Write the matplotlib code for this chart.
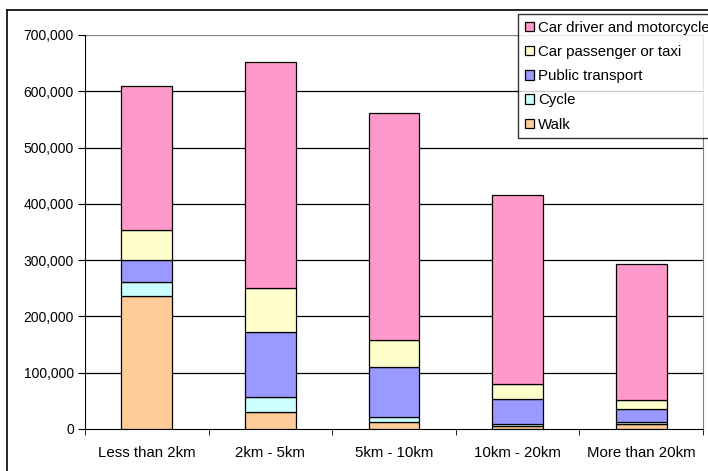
import matplotlib
matplotlib.use("Agg")
import matplotlib.pyplot as plt
from matplotlib.lines import Line2D
import numpy as np

plt.rcParams['font.family'] = ['Liberation Sans', 'DejaVu Sans']

categories = ['Less than 2km', '2km - 5km', '5km - 10km', '10km - 20km', 'More than 20km']
walk = [236000, 30000, 13000, 6000, 9000]
cycle = [25000, 26000, 8000, 3000, 3000]
public_transport = [39000, 116000, 89000, 44000, 23000]
car_passenger = [53000, 78000, 48000, 27000, 17000]
car_driver = [256000, 402000, 404000, 336000, 241000]

series = [
    ('Walk', walk, '#FFCC99'),
    ('Cycle', cycle, '#CCFFFF'),
    ('Public transport', public_transport, '#9999FF'),
    ('Car passenger or taxi', car_passenger, '#FFFFCC'),
    ('Car driver and motorcycle', car_driver, '#FF99CC'),
]

fig = plt.figure(figsize=(7.08, 4.71), dpi=100)
ax = fig.add_axes([0.120, 0.0892, 0.873, 0.8365])

x = np.arange(len(categories))
bottom = np.zeros(len(categories))
handles = []
for name, vals, col in series:
    b = ax.bar(x, vals, 0.41, bottom=bottom, color=col, edgecolor='black', linewidth=0.9, label=name, zorder=3)
    bottom += np.array(vals)
    handles.append(b)

ax.set_xlim(-0.5, len(categories) - 0.5)
ax.set_ylim(0, 700000)
yt = list(range(0, 700001, 100000))
ax.set_yticks(yt)
ax.set_yticklabels(['{:,}'.format(v) for v in yt], fontsize=10)
# gridlines (top one drawn grey like the plot-area border)
for v in yt[1:]:
    ax.axhline(v, color='black' if v < 700000 else '#808080', linewidth=0.9, zorder=1)
ax.set_xticks(x)
ax.set_xticklabels(categories, fontsize=10.8)
ax.tick_params(axis='x', length=0, pad=12)
ax.set_xticks(np.arange(-0.5, len(categories)), minor=True)
ax.tick_params(axis='x', which='minor', length=4, color='black')
ax.tick_params(axis='y', length=5, color='black', pad=3)

ax.spines['top'].set_visible(False)
ax.spines['right'].set_color('#808080')
ax.spines['left'].set_color('black')
ax.spines['bottom'].set_color('black')

# outer chart frame
fig.add_artist(Line2D([7/708, 7/708], [0, 1 - 10/471], color='black', linewidth=1.2))
fig.add_artist(Line2D([7/708, 1], [1 - 10/471, 1 - 10/471], color='black', linewidth=1.2))

leg = fig.legend(handles[::-1], [s[0] for s in series][::-1], loc='upper left',
                 bbox_to_anchor=(518/708, 1 - 14/471), fontsize=10.8, frameon=True,
                 fancybox=False, handlelength=0.6, handleheight=0.6, handletextpad=0.3,
                 borderpad=0.45, labelspacing=0.68, borderaxespad=0)
leg.get_frame().set_edgecolor('black')
leg.get_frame().set_linewidth(1.0)

fig.savefig('out.png', dpi=100)
